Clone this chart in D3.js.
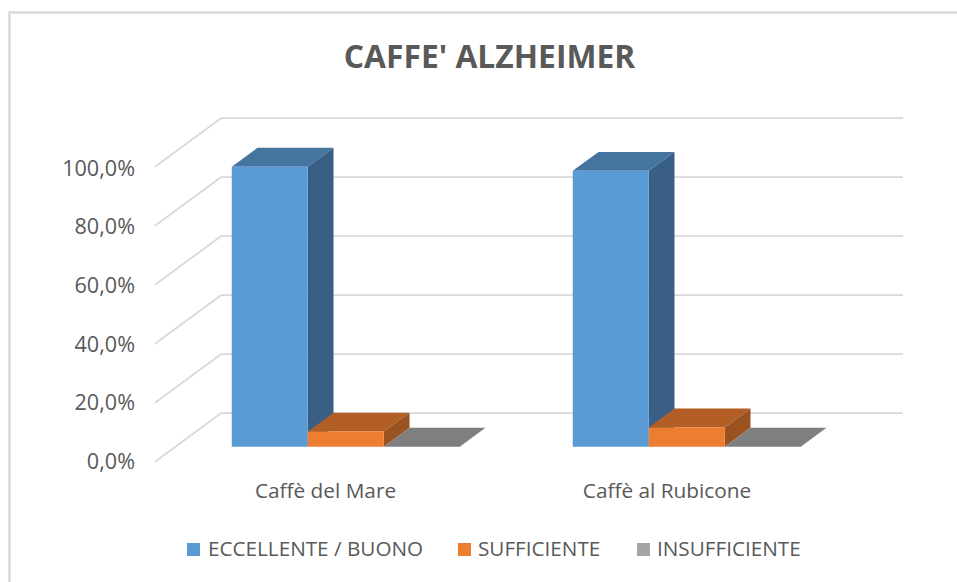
<!DOCTYPE html>
<html><head><meta charset="utf-8">
<script src="https://cdn.jsdelivr.net/npm/d3@7/dist/d3.min.js"></script>
<style>html,body{margin:0;padding:0;background:#fff}svg{display:block}</style>
</head><body><svg id="c" width="957" height="582"></svg>
<script>
const categories = ["Caffè del Mare", "Caffè al Rubicone"];
const seriesNames = ["ECCELLENTE / BUONO", "SUFFICIENTE", "INSUFFICIENTE"];
const eccellente = [0.949, 0.935];
const sufficiente = [0.051, 0.065];
const insufficiente = [0, 0];
const yTicks = [0, 0.2, 0.4, 0.6, 0.8, 1];
const titleText = "CAFFE' ALZHEIMER";
const seriesValues = [eccellente, sufficiente, insufficiente];
const faceFill = ["#5b9bd5", "#ed7d31", "#a5a5a5"];
const topFill = ["#44759f", "#b25e24", "#7f7f7f"];
const sideFill = ["#395f87", "#9a5220", "#6e6e6e"];

const svg = d3.select("#c");
const font = "'Open Sans', sans-serif";
const depthX = 66, depthY = 48.5, barZ0 = 0.31, barZ1 = 0.70;
const y = d3.scaleLinear().domain([0, 1]).range([461.7, 166.7]);
const yLabel = d3.scaleLinear().domain([0, 1]).range([461.2, 168.2]);
const zx = d3.scaleLinear().domain([0, 1]).range([0, depthX]);
const zy = d3.scaleLinear().domain([0, 1]).range([0, depthY]);
const x0 = d3.scaleBand().domain(categories).range([155 + zx(barZ0), 837 + zx(barZ0)]);
const barW = x0.bandwidth() * 76 / 341;
const gapL = x0.bandwidth() * 56.3 / 341;
const px = (x, z) => x + zx(z);
const py = (v, z) => y(v) - zy(z);
const poly = pts => d3.line()(pts);

// chart frame (left + top edges)
svg.append("path").attr("d", "M9.5,582V12.5H957").attr("fill", "none")
  .attr("stroke", "#d9d9d9").attr("stroke-width", 2.5);

// walls: back grid and left wall diagonals
const backL = px(155, 1), backR = px(837, 1), frontL = 155;
const grid = svg.append("g").attr("fill", "none").attr("stroke", "#d9d9d9").attr("stroke-width", 1.8);
yTicks.forEach(t => {
  grid.append("path").attr("d", poly([[frontL, py(t, 0)], [backL, py(t, 1)], [backR, py(t, 1)]]));
});

// y axis labels
svg.append("g").selectAll("text").data(yTicks).join("text")
  .attr("x", 135).attr("y", d => yLabel(d)).attr("dy", "0.35em").attr("text-anchor", "end")
  .attr("font-family", font).attr("font-size", 21.6).attr("fill", "#595959")
  .text(d => d3.format(".1f")(d * 100).replace(".", ",") + "%");

// 3D bars
categories.forEach((cat, i) => {
  const g = svg.append("g");
  seriesNames.forEach((s, k) => {
    const v = seriesValues[k][i];
    const xL = x0(cat) + gapL + k * barW, xR = xL + barW;
    const A = [px(xL, barZ0) - zx(barZ0), py(v, barZ0)], B = [px(xR, barZ0) - zx(barZ0), py(v, barZ0)];
    const C = [px(xR, barZ1) - zx(barZ0), py(v, barZ1)], D = [px(xL, barZ1) - zx(barZ0), py(v, barZ1)];
    const B0 = [B[0], py(0, barZ0)], C0 = [C[0], py(0, barZ1)], A0 = [A[0], py(0, barZ0)];
    g.append("path").attr("d", poly([A, B, C, D]) + "Z").attr("fill", topFill[k]);
    if (v > 0) {
      g.append("path").attr("d", poly([B, C, C0, B0]) + "Z").attr("fill", sideFill[k]);
      g.append("path").attr("d", poly([A, B, B0, A0]) + "Z").attr("fill", faceFill[k]);
    }
  });
});

// category labels
svg.append("g").selectAll("text").data(categories).join("text")
  .attr("x", (d, i) => [325.5, 667][i]).attr("y", 498).attr("text-anchor", "middle")
  .attr("font-family", font).attr("font-size", 20.8).attr("fill", "#595959").text(d => d);

// title
svg.append("text").attr("x", 489.5).attr("y", 68).attr("text-anchor", "middle")
  .attr("font-family", font).attr("font-weight", 700).attr("font-size", 31.8).attr("fill", "#595959").text(titleText);

// legend
const legX = [187, 458, 637], legTextX = [208, 478, 657];
const leg = svg.append("g").selectAll("g").data(seriesNames).join("g");
leg.append("rect").attr("x", (d, i) => legX[i]).attr("y", 543).attr("width", 13).attr("height", 13)
  .attr("fill", (d, i) => faceFill[i]);
leg.append("text").attr("x", (d, i) => legTextX[i]).attr("y", 555.7)
  .attr("font-family", font).attr("font-size", 20.7).attr("fill", "#595959").text(d => d);
</script></body></html>
